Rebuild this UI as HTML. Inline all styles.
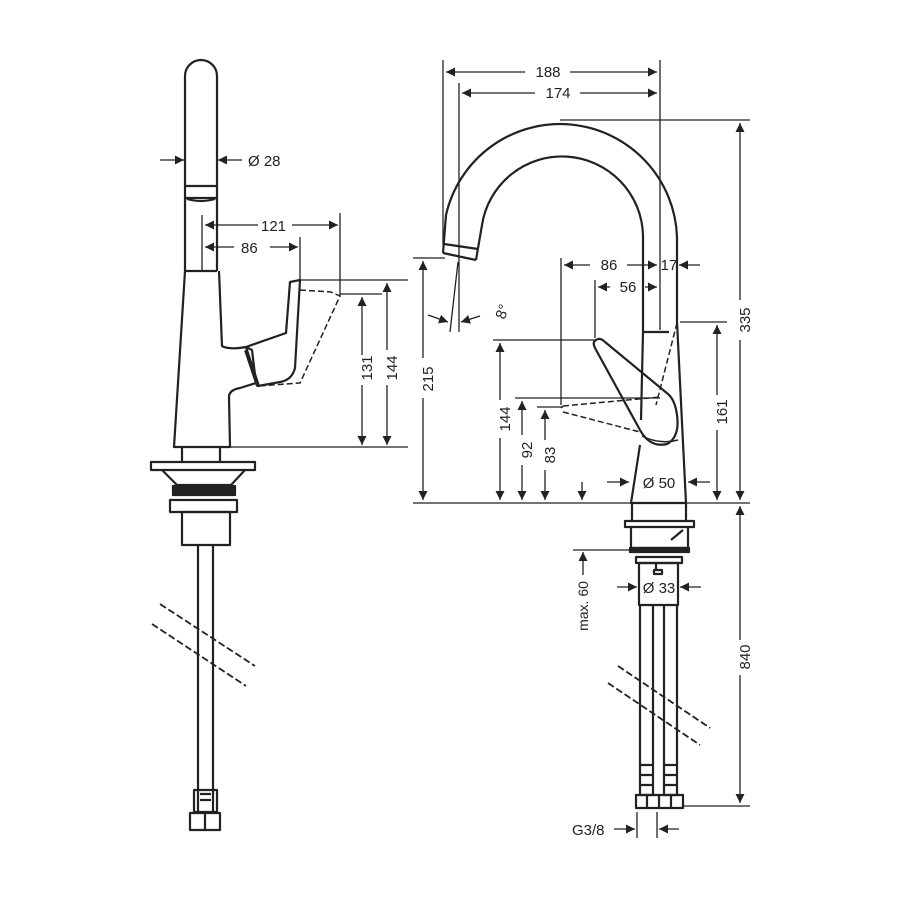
<!DOCTYPE html>
<html><head><meta charset="utf-8"><style>
html,body{margin:0;padding:0;background:#fff;width:900px;height:900px;overflow:hidden}
svg{display:block}
text{font-family:"Liberation Sans",sans-serif;font-size:15px;fill:#222}
</style></head><body>
<svg width="900" height="900" viewBox="0 0 900 900" xmlns="http://www.w3.org/2000/svg">
<defs>
<marker id="a" viewBox="0 0 10 10" refX="10" refY="5" markerWidth="9" markerHeight="9" markerUnits="userSpaceOnUse" orient="auto-start-reverse"><path d="M0,0 L10,5 L0,10z" fill="#222"/></marker>
</defs>
<g fill="none" stroke="#222" stroke-width="2.2" stroke-linejoin="round">
<!-- LEFT VIEW -->
<path d="M185,271 L185,76 A16,16 0 0 1 217,76 L217,271"/>
<path d="M185,186 L217,186 M185,198 L217,198 M187,199 Q201,203 215,199 M185,271 L217,271"/>
<path d="M185,271 L174,447 L230,447 L229,397 Q229,390 240,388 L256,383 L252,350 L246,347 Q229,350 222,346 L219,271"/>
<path d="M246,347 L286,333 L290,282 L300,280 L295,368 Q292,380 280,382 L258,386 Z"/>
<path d="M246,350 L258,386" stroke-width="4"/>
<path d="M300,290 L331,292 L340,296 L300,383 L258,386" stroke-dasharray="6,3" stroke-width="1.5"/>
<path d="M182,447 L182,462 M220,447 L220,462"/>
<rect x="151" y="462" width="104" height="8"/>
<path d="M162,470 L177,485 L231,485 L245,470"/>
<rect x="173" y="486" width="62" height="9" fill="#222"/>
<rect x="170" y="500" width="67" height="12"/>
<rect x="182" y="512" width="48" height="33"/>
<path d="M198,545 L198,812 M213,545 L213,812"/>
<path d="M194,790 L217,790 L217,812 L194,812 Z M200,794 L211,794 M200,800 L211,800"/>
<rect x="190" y="813" width="30" height="17"/>
<path d="M205,813 L205,830"/>
<path d="M160,604 L255,666 M152,624 L246,686" stroke-dasharray="7,3" stroke-width="1.8"/>
<!-- left dims -->
<g stroke-width="1.3">
<path d="M202,215 L202,270 M340,213 L340,297 M300,237 L300,280"/>
<path d="M300,280 L408,280 M340,294 L382,294 M230,447 L408,447"/>
<path d="M205,225 L258,225 M292,225 L338,225" marker-start="url(#a)" marker-end="url(#a)"/>
<path d="M205,247 L234,247 M270,247 L298,247" marker-start="url(#a)" marker-end="url(#a)"/>
<path d="M387,283 L387,350 M387,385 L387,445" marker-start="url(#a)" marker-end="url(#a)"/>
<path d="M362,297 L362,355 M362,385 L362,445" marker-start="url(#a)" marker-end="url(#a)"/>
<path d="M160,160 L184,160" marker-end="url(#a)"/>
<path d="M242,160 L218,160" marker-end="url(#a)"/>
</g>
<!-- RIGHT VIEW -->
<path d="M443,253 L446,215 A117,117 0 0 1 677,237 L677,322"/>
<path d="M476,260 L482,225 A81,81 0 0 1 643,235 L643,332"/>
<path d="M444,244 L478,249 M443,253 L476,260"/>
<path d="M643,332 L669,332"/>
<path d="M677,322 L686,503 L631,503 L640,445"/>
<path d="M643,332 L641,420"/>
<path d="M596,340 Q592,342 595,348 L640,430 Q650,448 667,444 Q680,437 677,415 Q675,400 668,394 L605,342 Q600,337 596,340 Z"/>
<path d="M642,436 Q660,445 678,440" stroke-width="1.5"/>
<path d="M677,323 L656,405 M563,406 L660,397 M563,412 L640,432 M561,408 L563,406" stroke-dasharray="6,3" stroke-width="1.5"/>
<path d="M632,503 L632,520 M686,503 L686,520"/>
<rect x="625" y="521" width="69" height="6"/>
<path d="M631,527 L631,548 L688,548 L688,527 M671,540 L683,530"/>
<rect x="630" y="548" width="59" height="4" fill="#222"/>
<rect x="636" y="557" width="46" height="6"/>
<rect x="639" y="563" width="39" height="42"/>
<path d="M656,563 L656,570 M654,570 L662,570 L662,574 L654,574 Z"/>
<path d="M640,605 L640,765 M653,605 L653,765 M664,605 L664,765 M677,605 L677,765"/>
<path d="M640,765 L653,765 L653,795 L640,795 Z M664,765 L677,765 L677,795 L664,795 Z M640,775 L653,775 M640,785 L653,785 M664,775 L677,775 M664,785 L677,785"/>
<rect x="636" y="795" width="47" height="13"/>
<path d="M647,795 L647,808 M659,795 L659,808 M671,795 L671,808"/>
<path d="M618,666 L710,728 M608,683 L700,745" stroke-dasharray="7,3" stroke-width="1.8"/>
<!-- right dims -->
<g stroke-width="1.3">
<path d="M443,60 L443,245 M459,83 L459,332 M660,60 L660,330 M458,262 L450,332"/>
<path d="M446,72 L525,72 M570,72 L657,72" marker-start="url(#a)" marker-end="url(#a)"/>
<path d="M462,93 L535,93 M580,93 L657,93" marker-start="url(#a)" marker-end="url(#a)"/>
<path d="M428,315 L448,322" marker-end="url(#a)"/>
<path d="M480,316 L461,322" marker-end="url(#a)"/>
<path d="M413,258 L445,258 M560,120 L750,120 M680,322 L727,322 M493,340 L595,340 M515,398 L660,398 M537,407 L563,407 M413,503 L750,503 M573,550 L630,550 M683,806 L750,806"/>
<path d="M423,261 L423,358 M423,398 L423,500" marker-start="url(#a)" marker-end="url(#a)"/>
<path d="M740,123 L740,300 M740,340 L740,500" marker-start="url(#a)" marker-end="url(#a)"/>
<path d="M561,258 L561,405 M595,280 L595,338"/>
<path d="M564,265 L590,265 M627,265 L657,265" marker-start="url(#a)" marker-end="url(#a)"/>
<path d="M700,265 L679,265" marker-end="url(#a)"/>
<path d="M598,287 L610,287 M645,287 L657,287" marker-start="url(#a)" marker-end="url(#a)"/>
<path d="M717,325 L717,395 M717,430 L717,500" marker-start="url(#a)" marker-end="url(#a)"/>
<path d="M500,343 L500,400 M500,438 L500,500" marker-start="url(#a)" marker-end="url(#a)"/>
<path d="M522,401 L522,435 M522,465 L522,500" marker-start="url(#a)" marker-end="url(#a)"/>
<path d="M545,410 L545,440 M545,470 L545,500" marker-start="url(#a)" marker-end="url(#a)"/>
<path d="M582,482 L582,500" marker-end="url(#a)"/>
<path d="M607,482 L629,482" marker-end="url(#a)"/>
<path d="M710,482 L688,482" marker-end="url(#a)"/>
<path d="M740,506 L740,640 M740,675 L740,803" marker-start="url(#a)" marker-end="url(#a)"/>
<path d="M583,575 L583,552" marker-end="url(#a)"/>
<path d="M617,587 L637,587" marker-end="url(#a)"/>
<path d="M701,587 L680,587" marker-end="url(#a)"/>
<path d="M637,812 L637,838 M657,812 L657,838"/>
<path d="M614,829 L635,829" marker-end="url(#a)"/>
<path d="M679,829 L659,829" marker-end="url(#a)"/>
</g>
</g>
<!-- texts -->
<text x="248" y="166">Ø 28</text>
<text x="261" y="231">121</text>
<text x="241" y="253">86</text>
<text transform="translate(372,368) rotate(-90)" text-anchor="middle">131</text>
<text transform="translate(397,368) rotate(-90)" text-anchor="middle">144</text>
<text x="548" y="77" text-anchor="middle">188</text>
<text x="558" y="98" text-anchor="middle">174</text>
<text x="492" y="322" transform="rotate(-70 497 312)">8°</text>
<text transform="translate(433,379) rotate(-90)" text-anchor="middle">215</text>
<text transform="translate(750,320) rotate(-90)" text-anchor="middle">335</text>
<text x="609" y="270" text-anchor="middle">86</text>
<text x="669" y="270" text-anchor="middle">17</text>
<text x="628" y="292" text-anchor="middle">56</text>
<text transform="translate(727,412) rotate(-90)" text-anchor="middle">161</text>
<text transform="translate(510,419) rotate(-90)" text-anchor="middle">144</text>
<text transform="translate(532,450) rotate(-90)" text-anchor="middle">92</text>
<text transform="translate(555,455) rotate(-90)" text-anchor="middle">83</text>
<text x="659" y="488" text-anchor="middle">Ø 50</text>
<text transform="translate(750,657) rotate(-90)" text-anchor="middle">840</text>
<text transform="translate(588,606) rotate(-90)" text-anchor="middle" style="font-size:14px">max. 60</text>
<text x="659" y="593" text-anchor="middle">Ø 33</text>
<text x="572" y="835">G3/8</text>
</svg>
</body></html>
